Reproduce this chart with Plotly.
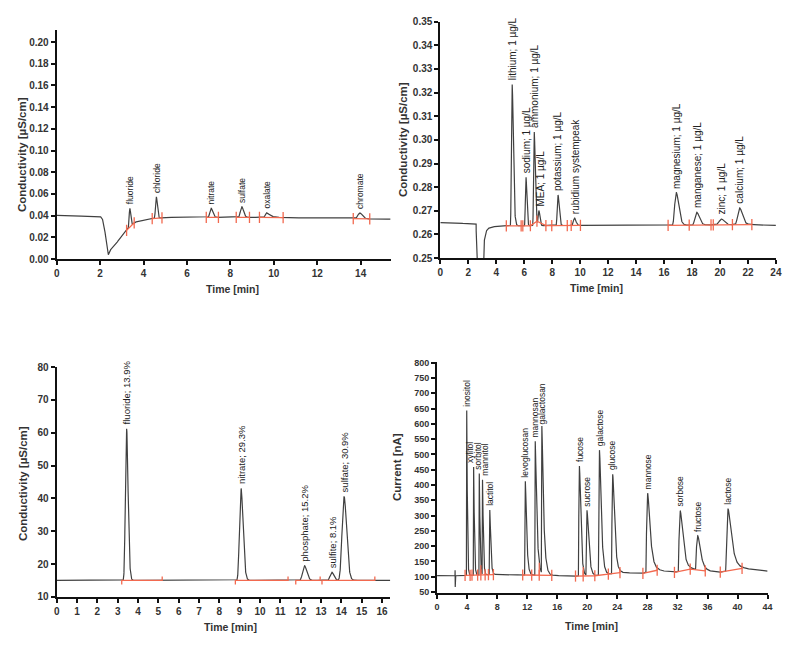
import numpy as np
import plotly.graph_objects as go

# ================= DATA =================
# --- Panel A (top-left): anions, conductivity [µS/cm] ---
a_base_t = [0.0, 1.0, 2.0, 2.1, 2.2, 2.3, 2.38, 2.45, 2.6, 2.8, 3.0, 3.2, 3.4, 3.6, 4.0, 4.4, 5.0, 6.0, 10.0, 12.0, 15.4]
a_base_v = [0.0402, 0.0396, 0.0394, 0.0375, 0.029, 0.013, 0.004, 0.008, 0.011, 0.016, 0.021, 0.026, 0.030, 0.034, 0.0355, 0.0372, 0.0383, 0.0385, 0.0383, 0.0377, 0.0368]
a_names = ["fluoride", "chloride", "nitrate", "sulfate", "oxalate", "chromate"]
a_rt = [3.37, 4.59, 7.12, 8.53, 9.67, 13.97]
a_apex = [0.0468, 0.0574, 0.0468, 0.0483, 0.0425, 0.0425]
a_sigma = [0.035, 0.04, 0.065, 0.07, 0.10, 0.10]
a_tau = [0.01, 0.01, 0.02, 0.02, 0.12, 0.03]
a_int_start = [3.22, 4.40, 6.89, 8.27, 9.34, 13.66]
a_int_end = [3.57, 4.85, 7.45, 8.88, 10.43, 14.42]

# --- Panel B (top-right): cations, conductivity [µS/cm] ---
b_base_t = [0.0, 1.0, 2.5, 2.56, 2.6, 3.04, 3.08, 3.15, 3.25, 3.4, 3.7, 4.5, 10.0, 16.0, 22.0, 24.0]
b_base_v = [0.2650, 0.2648, 0.2645, 0.2644, 0.235, 0.235, 0.250, 0.2575, 0.261, 0.2625, 0.2632, 0.2636, 0.2638, 0.2638, 0.2642, 0.2638]
b_names = ["lithium; 1 µg/L", "sodium; 1 µg/L", "ammonium; 1 µg/L", "MEA; 1 µg/L", "potassium; 1 µg/L",
           "rubidium systempeak", "magnesium; 1 µg/L", "manganese; 1 µg/L", "zinc; 1 µg/L", "calcium; 1 µg/L"]
b_rt = [5.14, 6.13, 6.72, 7.05, 8.42, 9.60, 16.88, 18.34, 20.11, 21.41]
b_apex = [0.3234, 0.2842, 0.3033, 0.2701, 0.2767, 0.2669, 0.2777, 0.2694, 0.2665, 0.2712]
b_sigma = [0.065, 0.05, 0.055, 0.06, 0.065, 0.09, 0.14, 0.15, 0.18, 0.16]
b_tau = [0.04, 0.02, 0.03, 0.02, 0.03, 0.03, 0.08, 0.08, 0.05, 0.08]
b_int_groups = [[4.72, 5.78, 5.90, 6.44, 6.91, 7.55, 7.97, 9.08, 9.36, 10.02],
                [16.29, 17.80, 19.36, 19.52, 20.89, 22.28]]

# --- Panel C (bottom-left): anions, conductivity [µS/cm] ---
c_base_t = [0.0, 16.5]
c_base_v = [15.0, 15.0]
c_names = ["fluoride; 13.9%", "nitrate; 29.3%", "phosphate; 15.2%", "sulfite; 8.1%", "sulfate; 30.9%"]
c_rt = [3.44, 9.07, 12.19, 13.54, 14.14]
c_apex = [61.2, 43.0, 19.5, 17.5, 40.5]
c_sigma = [0.065, 0.085, 0.10, 0.09, 0.11]
c_tau = [0.02, 0.03, 0.03, 0.02, 0.03]
c_int_start = [3.20, 8.79, 11.76, 13.05]
c_int_end = [5.19, 11.38, 12.96, 15.65]

# --- Panel D (bottom-right): carbohydrates, current [nA] ---
d_base_t = [0.0, 2.3, 2.39, 2.40, 2.42, 2.43, 3.7, 7.5, 11.4, 15.3, 18.4, 21.0, 22.8, 24.35, 27.4, 29.3, 31.6, 33.7, 35.7, 37.7, 40.6, 42.0, 44.0]
d_base_v = [103.5, 102.5, 103, 121, 66, 103, 104, 107, 105.5, 104, 102, 103, 108, 113, 111, 121, 114, 125, 119, 115, 127, 124, 118]
d_names = ["inositol", "xylitol", "sorbitol", "mannitol", "lactitol", "levoglucosan", "mannosan", "galactosan",
           "fucose", "sucrose", "galactose", "glucose", "mannose", "sorbose", "fructose", "lactose"]
d_rt = [3.95, 4.87, 5.62, 6.05, 7.02, 11.75, 13.07, 13.95, 18.95, 19.96, 21.62, 23.38, 28.03, 32.37, 34.70, 38.74]
d_apex = [644, 459, 438, 416, 318, 412, 543, 586, 462, 316, 514, 435, 373, 316, 234, 321]
d_sigma = [0.04, 0.045, 0.045, 0.05, 0.07, 0.09, 0.08, 0.09, 0.11, 0.13, 0.13, 0.14, 0.20, 0.22, 0.24, 0.28]
d_tau = [0.06, 0.07, 0.07, 0.08, 0.10, 0.15, 0.20, 0.22, 0.15, 0.20, 0.20, 0.22, 0.30, 0.32, 0.32, 0.42]
d_int_groups = [[3.73, 4.40, 4.65, 5.40, 5.83, 6.40, 6.84, 7.50],
                [11.40, 12.60, 13.60, 15.27],
                [18.43, 19.45, 21.00, 22.80, 24.35],
                [27.40, 29.30],
                [31.60, 33.70, 35.70],
                [37.70, 40.60]]

# ================= STYLE =================
W, H = 800, 666
TRACE = "#404040"
RED = "#f2694f"
AX = "#111111"
TXT = "#333333"
FONT = "Liberation Sans, Arial, sans-serif"


def px_x(p):
    return p / W


def px_y(p):
    return 1 - p / H


def egh(t, tr, h, s, tau):
    d = t - tr
    den = 2 * s * s + tau * d
    out = np.zeros_like(t)
    m = den > 0
    out[m] = h * np.exp(-d[m] ** 2 / den[m])
    return out


def chromatogram(tmax, step, base_t, base_v, rt, apex, sigma, tau):
    t = np.union1d(np.arange(0, tmax + step, step), np.array(base_t))
    t = t[t <= tmax]
    base = np.interp(t, base_t, base_v)
    y = base.copy()
    for r, a, s, ta in zip(rt, apex, sigma, tau):
        h = a - np.interp(r, base_t, base_v)
        y += egh(t, r, h, s, ta)
    return t, y


fig = go.Figure()

# ---- Panel A ----
tA, yA = chromatogram(15.38, 0.004, a_base_t, a_base_v, a_rt, a_apex, a_sigma, a_tau)
fig.add_trace(go.Scatter(x=tA, y=yA, mode="lines", line=dict(color=TRACE, width=1.2),
                         xaxis="x", yaxis="y", hoverinfo="skip"))
rx, ry = [], []
for s, e in zip(a_int_start, a_int_end):
    rx += [s, e, None]
    ry += [float(np.interp(s, tA, yA)), float(np.interp(e, tA, yA)), None]
fig.add_trace(go.Scatter(x=rx, y=ry, mode="lines+markers", line=dict(color=RED, width=1.3),
                         marker=dict(symbol="line-ns", size=8, line=dict(width=1.3, color=RED)),
                         xaxis="x", yaxis="y", hoverinfo="skip"))

# ---- Panel B ----
tB, yB = chromatogram(24.0, 0.004, b_base_t, b_base_v, b_rt, b_apex, b_sigma, b_tau)
fig.add_trace(go.Scatter(x=tB, y=yB, mode="lines", line=dict(color=TRACE, width=1.2),
                         xaxis="x2", yaxis="y2", hoverinfo="skip"))
rx, ry = [], []
for g in b_int_groups:
    for p in g:
        rx.append(p)
        ry.append(float(np.interp(p, tB, yB)))
    rx.append(None)
    ry.append(None)
fig.add_trace(go.Scatter(x=rx, y=ry, mode="lines+markers", line=dict(color=RED, width=1.3),
                         marker=dict(symbol="line-ns", size=8, line=dict(width=1.3, color=RED)),
                         xaxis="x2", yaxis="y2", hoverinfo="skip"))

# ---- Panel C ----
tC, yC = chromatogram(16.41, 0.004, c_base_t, c_base_v, c_rt, c_apex, c_sigma, c_tau)
fig.add_trace(go.Scatter(x=tC, y=yC, mode="lines", line=dict(color=TRACE, width=1.2),
                         xaxis="x3", yaxis="y3", hoverinfo="skip"))
TICKC = 1.2  # tick length in data units (≈4 px)
rx, ry = [], []
for s, e in zip(c_int_start, c_int_end):
    ys = float(np.interp(s, tC, yC))
    ye = float(np.interp(e, tC, yC))
    rx += [s, s, e, e, None]
    ry += [ys - TICKC, ys, ye, ye + TICKC, None]
fig.add_trace(go.Scatter(x=rx, y=ry, mode="lines", line=dict(color=RED, width=1.3),
                         xaxis="x3", yaxis="y3", hoverinfo="skip"))

# ---- Panel D ----
tD, yD = chromatogram(44.0, 0.005, d_base_t, d_base_v, d_rt, d_apex, d_sigma, d_tau)
fig.add_trace(go.Scatter(x=tD, y=yD, mode="lines", line=dict(color=TRACE, width=1.2),
                         xaxis="x4", yaxis="y4", hoverinfo="skip"))
rx, ry, dx, dy = [], [], [], []
for g in d_int_groups:
    for p in g:
        b = float(np.interp(p, d_base_t, d_base_v))
        rx.append(p)
        ry.append(b)
        dx += [p, p, None]
        dy += [b, float(np.interp(p, tD, yD)), None]
    rx.append(None)
    ry.append(None)
fig.add_trace(go.Scatter(x=dx, y=dy, mode="lines", line=dict(color=RED, width=1.2),
                         xaxis="x4", yaxis="y4", hoverinfo="skip"))
fig.add_trace(go.Scatter(x=rx, y=ry, mode="lines+markers", line=dict(color=RED, width=1.3),
                         marker=dict(symbol="line-ns", size=8, line=dict(width=1.3, color=RED)),
                         xaxis="x4", yaxis="y4", hoverinfo="skip"))

# ---- Peak labels ----
def add_labels(names, rt, apex, xa, ya, size, shifts=None):
    for i, (n, r, a) in enumerate(zip(names, rt, apex)):
        fig.add_annotation(x=r, y=a, xref=xa, yref=ya, text=n, textangle=-90, showarrow=False,
                           xanchor="center", yanchor="bottom", yshift=2,
                           xshift=(shifts[i] if shifts else 0),
                           font=dict(family=FONT, size=size, color="#222222"))


add_labels(a_names, a_rt, a_apex, "x", "y", 8.5)
add_labels(b_names, b_rt, b_apex, "x2", "y2", 10, [0, 0, 0, 2, 0, 1, 0, 0, 0, 0])
add_labels(c_names, c_rt, c_apex, "x3", "y3", 9.5)
add_labels(d_names, d_rt, d_apex, "x4", "y4", 8.5,
           [0, -3, -1, 3, 0, 0, 0, 0, 0, 0, 0, 0, 0, 0, 0, 0])

# ---- Axes ----
def axis(domain, rng, dtick, tick0=0, fmt=None, anchor=None, fsize=10):
    d = dict(domain=domain, range=rng, dtick=dtick, tick0=tick0, showline=True, linecolor=AX,
             linewidth=2, ticks="outside", ticklen=4, tickwidth=1.5, tickcolor=AX,
             showgrid=False, zeroline=False, anchor=anchor,
             tickfont=dict(family=FONT, size=fsize, color=TXT, weight="bold"))
    if fmt:
        d["tickformat"] = fmt
    return d


fig.update_layout(
    width=W, height=H, autosize=False, showlegend=False,
    margin=dict(l=0, r=0, t=0, b=0),
    paper_bgcolor="white", plot_bgcolor="white",
    xaxis=axis([px_x(54.3), px_x(392)], [0, 15.38], 2, anchor="y"),
    yaxis=axis([px_y(257.7), px_y(24)], [0, 0.2115], 0.02, 0, ".2f", anchor="x"),
    xaxis2=axis([px_x(442.3), px_x(781.7)], [0, 24], 2, anchor="y2"),
    yaxis2=axis([px_y(256.7), px_y(16)], [0.25, 0.35], 0.01, 0.25, ".2f", anchor="x2"),
    xaxis3=axis([px_x(54.3), px_x(391.7)], [0, 16.41], 1, anchor="y3"),
    yaxis3=axis([px_y(601.7), px_y(367.7)], [10, 80], 10, 0, anchor="x3"),
    xaxis4=axis([px_x(439), px_x(773.3)], [0, 44], 4, anchor="y4", fsize=9),
    yaxis4=axis([px_y(597.7), px_y(362.7)], [46.8, 802], 50, 0, anchor="x4", fsize=9),
)

# ---- Axis titles ----
def title(text, xp, yp, angle=0, size=10.5):
    fig.add_annotation(x=px_x(xp), y=px_y(yp), xref="paper", yref="paper", text=text,
                       textangle=angle, showarrow=False, xanchor="center", yanchor="middle",
                       font=dict(family=FONT, size=size, color=TXT, weight="bold"))


title("Conductivity [µS/cm]", 20, 151, -90, 11.5)
title("Time [min]", 231.7, 288)
title("Conductivity [µS/cm]", 404, 136, -90, 11.5)
title("Time [min]", 600, 287)
title("Conductivity [µS/cm]", 20, 486, -90, 11.5)
title("Time [min]", 230, 632.7)
title("Current [nA]", 398, 470, -90, 11.5)
title("Time [min]", 595, 631.7)

fig.write_html("out.html")
